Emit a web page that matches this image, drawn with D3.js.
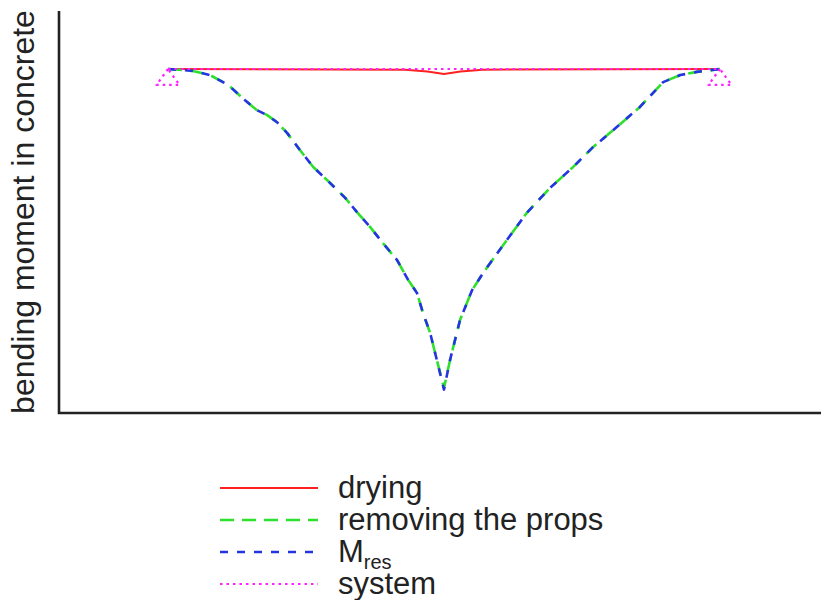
<!DOCTYPE html>
<html>
<head>
<meta charset="utf-8">
<script src="https://cdn.jsdelivr.net/npm/d3@7"></script>
<style>
  html, body { margin: 0; padding: 0; background: #fff; }
  svg { display: block; font-family: "Liberation Sans", Arial, sans-serif; }
</style>
</head>
<body>
<svg id="chart" width="821" height="600"></svg>
<script>
// Position along the beam (m)
const spanLength = 10;

// Bending moment due to drying (shrinkage)
const dryingX = [0, 4.3, 4.7, 5.0, 5.3, 5.7, 10];
const dryingM = [0, -0.2, -0.8, -1.6, -0.8, -0.2, 0];

// Bending moment after removing the props
const propsX = [0, 0.45, 0.76, 1.09, 1.39, 1.61, 1.79, 1.97, 2.16, 2.39, 2.63, 2.88, 3.21, 3.42,
                3.66, 3.89, 4.15, 4.35, 4.51, 4.62, 4.75, 4.87, 5.0,
                5.11, 5.29, 5.51, 5.71, 6.14, 6.5, 6.92, 7.34, 7.7, 8.13, 8.55, 8.97, 9.28, 9.58, 10];
const propsM = [0, -0.6, -1.9, -5.0, -9.7, -12.9, -14.4, -16.6, -20.1, -25.4, -30.7, -34.8, -40.4, -44.8,
                -49.5, -54.5, -59.9, -66.1, -70.2, -76.5, -82.8, -91.2, -100,
                -91.2, -78.7, -69.3, -63.9, -53.6, -45.1, -37.3, -30.7, -24.5, -18.2, -11.9, -4.1, -1.9, -0.9, 0];

// Resulting moment M_res (coincides with the props curve)
const resX = [0, 0.45, 0.76, 1.09, 1.39, 1.61, 1.79, 1.97, 2.16, 2.39, 2.63, 2.88, 3.21, 3.42,
              3.66, 3.89, 4.15, 4.35, 4.51, 4.62, 4.75, 4.87, 5.0,
              5.11, 5.29, 5.51, 5.71, 6.14, 6.5, 6.92, 7.34, 7.7, 8.13, 8.55, 8.97, 9.28, 9.58, 10];
const resM = [0, -0.6, -1.9, -5.0, -9.7, -12.9, -14.4, -16.6, -20.1, -25.4, -30.7, -34.8, -40.4, -44.8,
              -49.5, -54.5, -59.9, -66.1, -70.2, -76.5, -82.8, -91.2, -100.5,
              -91.2, -78.7, -69.3, -63.9, -53.6, -45.1, -37.3, -30.7, -24.5, -18.2, -11.9, -4.1, -1.9, -0.9, 0];

// Static system: beam axis and the two supports (triangle half-width and height)
const supportX = [0, spanLength];
const supportHalfWidth = 0.21;
const supportHeight = 5;

const legendLabels = ["drying", "removing the props", "M", "system"];
const legendColors = ["#ff2020", "#2ee02e", "#2434e0", "#ff22ff"];
const legendDash   = [null, "14,8", "8,9", "2.5,4"];
const legendWidth  = [2, 2.6, 2.6, 2.2];

const svg = d3.select("#chart");

const x = d3.scaleLinear().domain([0, spanLength]).range([168, 720]);
const y = d3.scaleLinear().domain([0, -100]).range([69, 388]);

// Axis frame (left and bottom, no ticks)
const frame = { left: 59, top: 11, bottom: 413, right: 821 };
svg.append("path")
  .attr("d", `M${frame.left},${frame.top}V${frame.bottom}H${frame.right}`)
  .attr("fill", "none")
  .attr("stroke", "#222")
  .attr("stroke-width", 2.6);

svg.append("text")
  .attr("transform", `translate(34,${(frame.top + frame.bottom) / 2}) rotate(-90)`)
  .attr("text-anchor", "middle")
  .attr("font-size", 32)
  .attr("fill", "#222")
  .text("bending moment in concrete");

const line = d3.line().x(d => x(d[0])).y(d => y(d[1]));

function drawSeries(xs, ms, i) {
  svg.append("path")
    .datum(d3.zip(xs, ms))
    .attr("d", line)
    .attr("fill", "none")
    .attr("stroke", legendColors[i])
    .attr("stroke-width", legendWidth[i])
    .attr("stroke-dasharray", legendDash[i])
    .attr("stroke-linejoin", "round");
}

drawSeries(dryingX, dryingM, 0);
drawSeries(propsX, propsM, 1);
drawSeries(resX, resM, 2);

// System: beam line plus support triangles
const systemPath = [[supportX[0], 0], [supportX[1], 0]];
drawSeries(systemPath.map(d => d[0]), systemPath.map(d => d[1]), 3);
supportX.forEach(sx => {
  const tri = [[sx, 0], [sx - supportHalfWidth, -supportHeight], [sx + supportHalfWidth, -supportHeight], [sx, 0]];
  drawSeries(tri.map(d => d[0]), tri.map(d => d[1]), 3);
});

// Legend
const legend = svg.append("g");
const legendRowY = d3.scaleLinear().domain([0, 3]).range([488, 584]);
legendLabels.forEach((lab, i) => {
  const ly = legendRowY(i);
  legend.append("line")
    .attr("x1", 220).attr("x2", 318)
    .attr("y1", ly).attr("y2", ly)
    .attr("stroke", legendColors[i])
    .attr("stroke-width", legendWidth[i])
    .attr("stroke-dasharray", legendDash[i]);
  const t = legend.append("text")
    .attr("x", 338)
    .attr("y", ly + 10)
    .attr("font-size", 31)
    .attr("fill", "#222")
    .text(lab);
  if (i === 2) {
    t.append("tspan")
      .attr("font-size", 20)
      .attr("dy", 7)
      .text("res");
  }
});
</script>
</body>
</html>
